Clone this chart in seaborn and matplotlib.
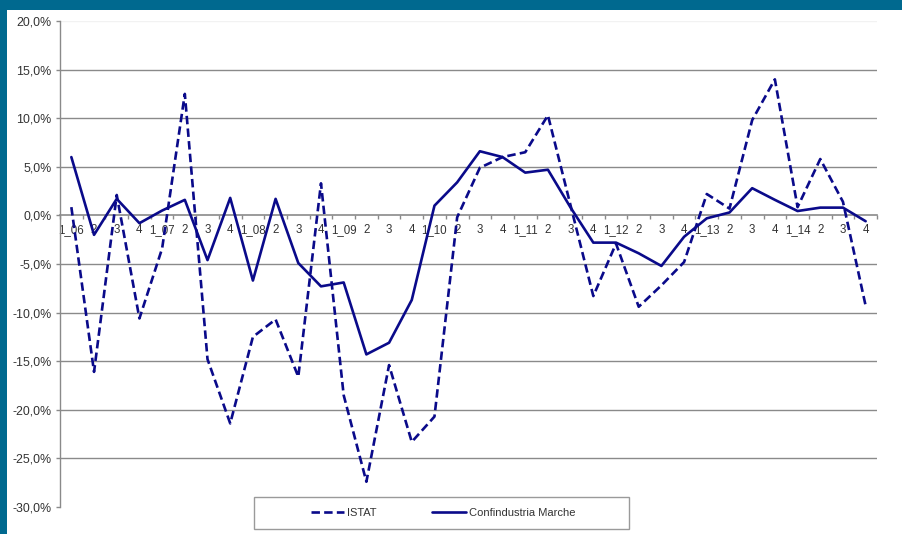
import numpy as np
import pandas as pd
import matplotlib
matplotlib.use("Agg")
import matplotlib.pyplot as plt
from matplotlib.patches import Rectangle
from matplotlib.ticker import FixedLocator, FuncFormatter
import seaborn as sns

# Quarterly periods 2006-2014
periods = ["1_06", "2", "3", "4", "1_07", "2", "3", "4", "1_08", "2", "3", "4",
           "1_09", "2", "3", "4", "1_10", "2", "3", "4", "1_11", "2", "3", "4",
           "1_12", "2", "3", "4", "1_13", "2", "3", "4", "1_14", "2", "3", "4"]

istat = [0.85, -16.1, 2.1, -10.6, -3.4, 12.5, -14.8, -21.4, -12.5, -10.7, -16.6, 3.3,
         -18.5, -27.4, -15.4, -23.3, -20.7, -0.2, 4.9, 6.0, 6.5, 10.3, 1.0, -8.3,
         -2.9, -9.4, -7.2, -4.8, 2.2, 0.7, 9.8, 14.0, 0.85, 5.8, 1.4, -9.3]

confindustria = [6.0, -2.0, 1.7, -0.8, 0.5, 1.6, -4.6, 1.8, -6.7, 1.7, -4.9, -7.3,
                 -6.9, -14.3, -13.1, -8.7, 1.0, 3.4, 6.6, 6.0, 4.4, 4.7, 0.8, -2.8,
                 -2.8, -3.9, -5.2, -2.2, -0.3, 0.3, 2.8, 1.6, 0.45, 0.8, 0.8, -0.6]

series_names = ["ISTAT", "Confindustria Marche"]
y_ticks = [-30, -25, -20, -15, -10, -5, 0, 5, 10, 15, 20]

sns.set_theme(style="white")
plt.rcParams["font.family"] = ["Liberation Sans", "DejaVu Sans"]

idx = np.arange(len(periods))
df = pd.DataFrame({
    "pos": np.concatenate([idx, idx]),
    "value": istat + confindustria,
    "series": [series_names[0]] * len(idx) + [series_names[1]] * len(idx),
})

W, H = 902, 534
fig = plt.figure(figsize=(W / 100, H / 100), dpi=100)
fig.patch.set_facecolor("white")
ax = fig.add_axes([60 / W, 1 - 507 / H, 817 / W, 486 / H])

navy = "#0a0a8a"
sns.lineplot(data=df, x="pos", y="value", hue="series", style="series",
             palette={series_names[0]: navy, series_names[1]: navy},
             dashes={series_names[0]: (3.2, 1.6), series_names[1]: ""},
             linewidth=1.9, sort=False, legend=False, ax=ax, zorder=5)

ax.set_xlim(-0.5, len(periods) - 0.5)
ax.set_ylim(-30, 20)
ax.set_xlabel("")
ax.set_ylabel("")

# horizontal gridlines
for v in y_ticks[1:-1]:
    if v != 0:
        ax.axhline(v, color="#8a8a8a", lw=1.0, zorder=1)
ax.axhline(20, color="#f2f2f2", lw=1.0, zorder=1)

# spines: left axis and a category axis through zero
for s in ["top", "right"]:
    ax.spines[s].set_visible(False)
ax.spines["left"].set_color("#8a8a8a")
ax.spines["left"].set_linewidth(1.0)
ax.spines["bottom"].set_position(("data", 0))
ax.spines["bottom"].set_color("#8a8a8a")
ax.spines["bottom"].set_linewidth(1.2)
ax.spines["bottom"].set_zorder(2)

ax.yaxis.set_major_locator(FixedLocator(y_ticks))
ax.yaxis.set_major_formatter(FuncFormatter(lambda v, p: f"{v:.1f}%".replace(".", ",")))
ax.tick_params(axis="y", which="major", direction="out", length=3, width=1,
               color="#8a8a8a", labelsize=8.9, labelcolor="#333333", pad=3, left=True)

# tick marks at category boundaries, labels centred on each quarter
ax.xaxis.set_major_locator(FixedLocator(np.arange(len(periods) + 1) - 0.5))
ax.xaxis.set_major_formatter(FuncFormatter(lambda v, p: ""))
ax.xaxis.set_minor_locator(FixedLocator(idx))
ax.set_xticklabels(periods, minor=True)
ax.tick_params(axis="x", which="major", direction="out", length=3, width=1,
               color="#8a8a8a", bottom=True)
ax.tick_params(axis="x", which="minor", length=0, labelsize=8.3,
               labelcolor="#333333", pad=6)
for lab in ax.get_xticklabels(minor=True):
    lab.set_zorder(3)

# legend box and entries
fig.patches.append(Rectangle((254 / W, 1 - 529 / H), 375 / W, 32 / H,
                             transform=fig.transFigure, facecolor="white",
                             edgecolor="#9a9a9a", linewidth=1.0, zorder=8))
handles = [plt.Line2D([], [], color=navy, lw=1.9, dashes=(3.2, 1.6)),
           plt.Line2D([], [], color=navy, lw=1.9)]
leg = fig.legend(handles, series_names, loc="center",
                 bbox_to_anchor=(443 / W, 1 - 513 / H), ncol=2,
                 fontsize=8.0, frameon=False, handlelength=3.0,
                 handletextpad=0.3, columnspacing=5.0, borderpad=0.5,
                 borderaxespad=0)
leg.set_zorder(9)
for t in leg.get_texts():
    t.set_color("#333333")

# teal frame along the top and left edges
teal = "#00698f"
fig.patches.append(Rectangle((0, 1 - 10 / H), 1, 10 / H, transform=fig.transFigure,
                             facecolor=teal, edgecolor="none", zorder=10))
fig.patches.append(Rectangle((0, 0), 7 / W, 1, transform=fig.transFigure,
                             facecolor=teal, edgecolor="none", zorder=10))

fig.savefig("out.png", dpi=100, facecolor="white")
